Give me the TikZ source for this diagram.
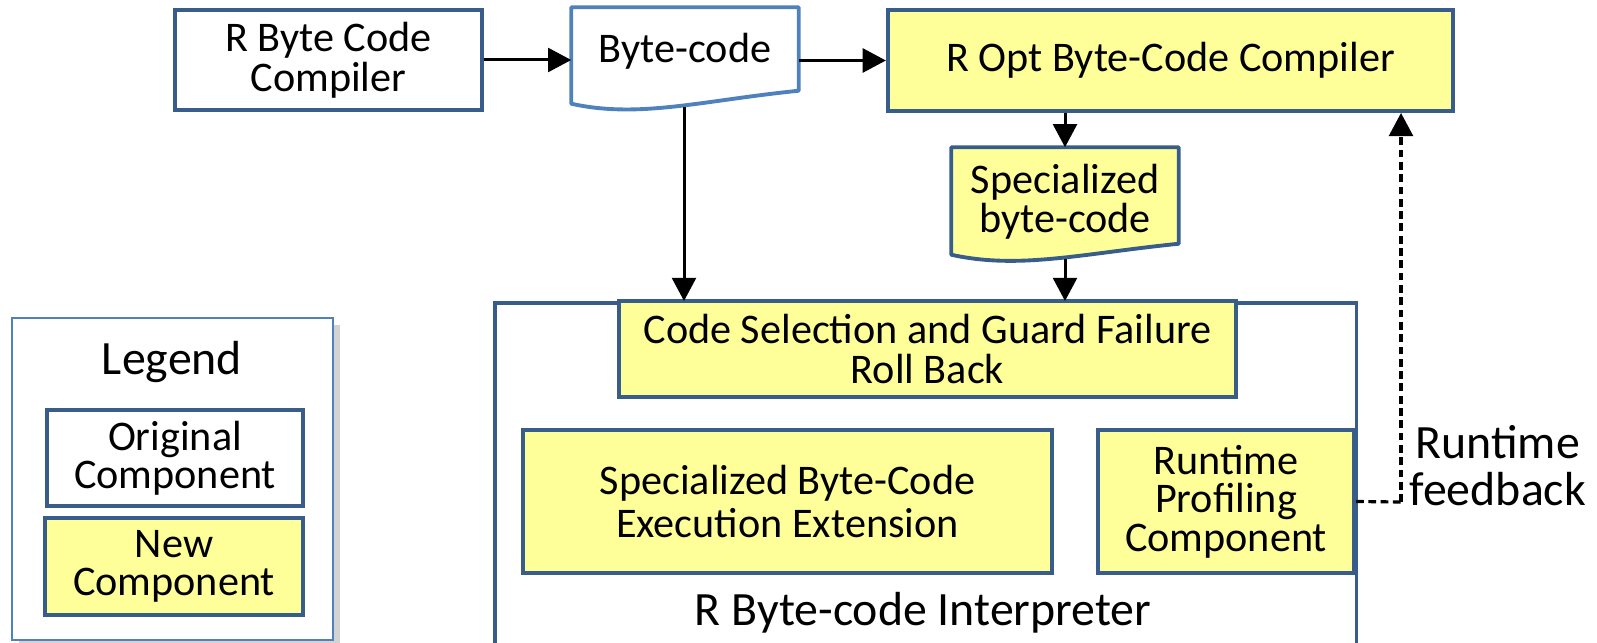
\documentclass[tikz,border=0pt]{standalone}
\usepackage{fontspec}
\setmainfont{Carlito}
\usetikzlibrary{arrows.meta,calc,shadows}

\definecolor{boxblue}{RGB}{56,93,138}
\definecolor{docblue}{RGB}{79,129,189}
\definecolor{newyellow}{RGB}{255,255,153}

\tikzset{
  orig/.style={draw=boxblue, line width=1.1pt, fill=white, align=center, inner sep=0pt,
    font=\fontsize{12}{11.4}\selectfont},
  newcomp/.style={orig, fill=newyellow},
  flow/.style={line width=0.85pt, -{Triangle[width=6.8pt,length=6.6pt]}},
  bigtext/.style={font=\fontsize{13.6}{13.4}\selectfont, align=center, inner sep=0pt}
}

\begin{document}
\begin{tikzpicture}[x=0.01cm, y=-0.01cm]
\useasboundingbox (0,0) rectangle (1597,643);

%legend
\node[draw=docblue, line width=0.6pt, fill=white, minimum width=3.21cm, minimum height=3.22cm,
  drop shadow={shadow xshift=2pt, shadow yshift=-2pt, opacity=0.35}] (legend) at (172.5,479) {};
\node[bigtext] (legtitle) at (172,362) {Legend};
\node[orig, minimum width=2.56cm, minimum height=0.96cm, font=\fontsize{12}{10.9}\selectfont] (legorig) at (175,458) {Original\\Component};
\node[newcomp, minimum width=2.58cm, minimum height=0.97cm, font=\fontsize{12}{10.9}\selectfont] (legnew) at (174,566.5) {New\\Component};

%top row
\node[orig, minimum width=3.07cm, minimum height=1.0cm] (rbcc) at (328.5,60) {R Byte Code\\Compiler};
\node[newcomp, minimum width=5.65cm, minimum height=1.01cm] (ropt) at (1170.5,60.5) {R Opt Byte-Code Compiler};

%documents
\node[minimum width=2.26cm, minimum height=0.82cm, inner sep=0pt] (bc) at (685,49) {};
\draw[docblue, line width=1.1pt, line join=round, fill=white] (bc.north west) -- (bc.north east) -- (bc.south east)
  .. controls +(-98,10) and +(68,15) .. ($(bc.south west)+(0,13)$) -- cycle;
\node[font=\fontsize{12}{11.4}\selectfont] (bctext) at (685,51) {Byte-code};
\coordinate (bcb) at (684,107);

\node[minimum width=2.26cm, minimum height=0.95cm, inner sep=0pt] (sbc) at (1065,195.5) {};
\draw[boxblue, line width=1.1pt, line join=round, fill=newyellow] (sbc.north west) -- (sbc.north east) -- (sbc.south east)
  .. controls +(-98,10) and +(68,15) .. ($(sbc.south west)+(0,11)$) -- cycle;
\node[align=center, inner sep=0pt, font=\fontsize{12}{11.2}\selectfont] (sbctext) at (1065,202) {Specialized\\byte-code};
\coordinate (sbcb) at (1065,259);

%interpreter
\node[orig, minimum width=8.61cm, minimum height=3.59cm, anchor=north west] (interp) at (493,301) {};
\node[newcomp, minimum width=6.17cm, minimum height=0.96cm] (csel) at (927.5,349) {Code Selection and Guard Failure\\Roll Back};
\node[newcomp, minimum width=5.29cm, minimum height=1.43cm, font=\fontsize{12}{12}\selectfont] (exec) at (787.5,501.5) {Specialized Byte-Code\\Execution Extension};
\node[newcomp, minimum width=2.56cm, minimum height=1.43cm, font=\fontsize{12}{10.9}\selectfont] (prof) at (1226,501.5) {Runtime\\Profiling\\Component};
\node[bigtext] (interplabel) at (923,613) {R Byte-code Interpreter};

%arrows
\draw[flow] (rbcc.east) -- (bc.west |- rbcc.east);
\draw[flow] (bc.east |- ropt.west) -- (ropt.west);
\draw[flow] (bcb) -- (bcb |- interp.north);
\draw[flow] (ropt.south -| sbc.north) -- (sbc.north);
\draw[flow] (sbcb) -- (sbcb |- interp.north);

%feedback
\coordinate (fb) at (1401,502);
\draw[line width=0.9pt, dash pattern=on 2.2pt off 1.3pt] (prof.east) -- (fb);
\draw[flow, line width=0.9pt, dash pattern=on 2.2pt off 1.3pt] (fb) -- (fb |- ropt.south);
\node[bigtext, anchor=west] (fbtext) at (1409,466) {Runtime\\feedback};
\end{tikzpicture}
\end{document}
